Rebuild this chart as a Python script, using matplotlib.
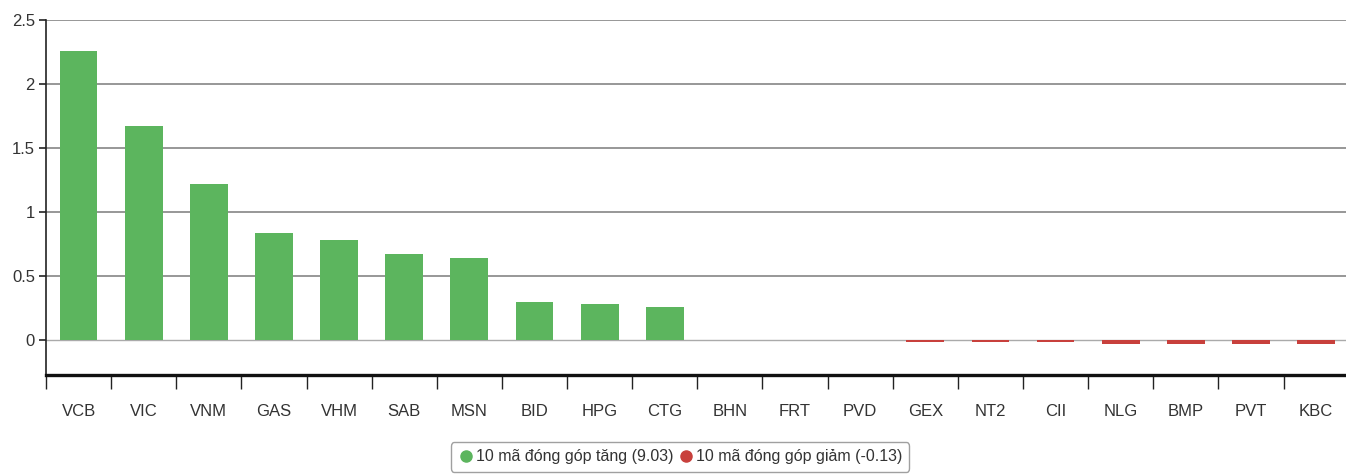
import matplotlib
matplotlib.use("Agg")
import matplotlib.pyplot as plt
from matplotlib.lines import Line2D
from matplotlib.ticker import FixedLocator

plt.rcParams['font.family'] = ['Liberation Sans', 'DejaVu Sans']

categories = ["VCB", "VIC", "VNM", "GAS", "VHM", "SAB", "MSN", "BID", "HPG", "CTG",
              "BHN", "FRT", "PVD", "GEX", "NT2", "CII", "NLG", "BMP", "PVT", "KBC"]
values = [2.26, 1.67, 1.22, 0.84, 0.78, 0.67, 0.64, 0.30, 0.28, 0.26,
          0.0, 0.0, 0.0, -0.015, -0.015, -0.015, -0.03, -0.03, -0.03, -0.03]
yticks = [0, 0.5, 1, 1.5, 2, 2.5]
ytick_labels = ["0", "0.5", "1", "1.5", "2", "2.5"]
legend_labels = ["10 mã đóng góp tăng (9.03)", "10 mã đóng góp giảm (-0.13)"]

green = "#5cb55e"
red = "#c8403c"

fig = plt.figure(figsize=(13.46, 4.75), dpi=100)
ax = fig.add_axes([46 / 1346, 1 - 375 / 475, 1 - 46 / 1346 + 0.002, (375 - 20) / 475])

x = list(range(len(categories)))
colors = [green if v >= 0 else red for v in values]
ax.bar(x, values, width=0.58, color=colors, linewidth=0, zorder=3)

ax.set_xlim(-0.5, len(categories) - 0.5)
ax.set_ylim(-0.273, 2.5)

for t in yticks:
    if t == 0:
        ax.axhline(t, color="#aaaaaa", lw=1.0, zorder=2)
    else:
        ax.axhline(t, color="#7a7a7a", lw=1.1, zorder=1)

ax.set_yticks(yticks)
ax.set_yticklabels(ytick_labels)
ax.tick_params(axis='y', length=5, width=1.2, color="#222222", labelsize=12, labelcolor="#333333", pad=3)

ax.set_xticks(x)
ax.set_xticklabels(categories)
ax.xaxis.set_minor_locator(FixedLocator([i - 0.5 for i in range(len(categories) + 1)]))
ax.tick_params(axis='x', which='major', length=0, labelsize=12, labelcolor="#333333", pad=21)
ax.tick_params(axis='x', which='minor', length=10, width=1.0, color="#222222")

for s in ["top", "right"]:
    ax.spines[s].set_visible(False)
ax.spines["left"].set_color("#222222")
ax.spines["left"].set_linewidth(1.2)
ax.spines["bottom"].set_color("#111111")
ax.spines["bottom"].set_linewidth(2.4)

handles = [Line2D([], [], marker='o', linestyle='none', markersize=8, color=green),
           Line2D([], [], marker='o', linestyle='none', markersize=8, color=red)]
leg = fig.legend(handles, legend_labels, loc="center", bbox_to_anchor=(680 / 1346, 1 - 457 / 475),
                 ncol=2, frameon=True, fancybox=True, fontsize=11.5, handletextpad=0.1,
                 columnspacing=0.3, handlelength=1.0, borderpad=0.45, edgecolor="#888888")
leg.get_frame().set_linewidth(1.0)
for t in leg.get_texts():
    t.set_color("#333333")

fig.savefig("out.png", dpi=100)
